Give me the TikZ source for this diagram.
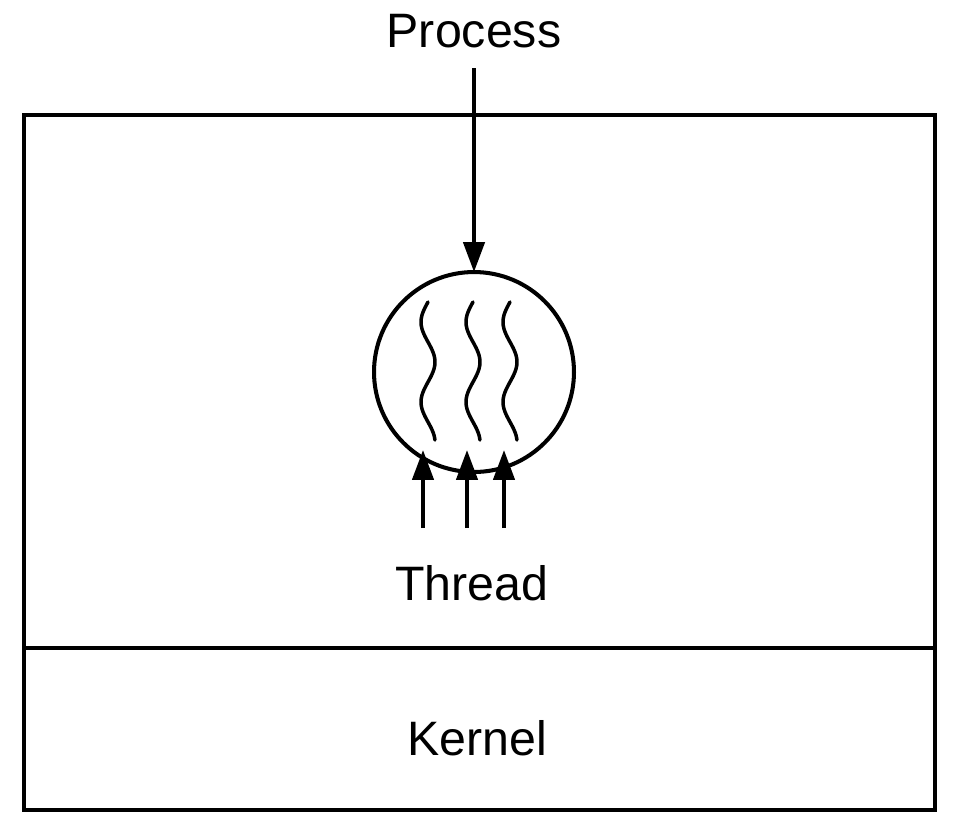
\documentclass[tikz,border=0pt]{standalone}
\usepackage{fontspec}
\setmainfont{Liberation Sans}
\usetikzlibrary{arrows.meta,positioning}

\tikzset{
  lbl/.style={font=\fontsize{27.5}{33}\selectfont, inner sep=0pt},
  frame/.style={draw, line width=2.3pt, inner sep=0pt, outer sep=0pt},
  arr/.style={line width=2.3pt, -{Triangle[length=17pt,width=12pt]}},
  wave/.style={line width=2pt, line cap=round}
}

\begin{document}
\begin{tikzpicture}[x=0.02cm,y=-0.02cm]
  \useasboundingbox (0,0) rectangle (954,816);

  % user space and kernel
  \node[frame, anchor=north west, minimum width=18.22cm, minimum height=10.66cm] (user) at (24,115) {};
  \node[frame, anchor=north, minimum width=18.22cm, minimum height=3.24cm] (kernel) at (user.south) {};
  \node[lbl, anchor=base] (kernellbl) at (477,755) {Kernel};

  % the process
  \node[circle, frame, minimum size=4cm] (proc) at (474,372) {};
  \node[lbl, anchor=base] (proclbl) at (474,47) {Process};
  \coordinate (procin) at (474,68);
  \draw[arr] (procin) -- (proc.north);

  % threads inside
  \foreach \x in {428,473,510}
    \draw[wave, domain=0:138, samples=60, variable=\t]
      plot ({\x - 7*sin(4.5*\t)}, {302+\t});

  % threads
  \node[lbl, anchor=base] (thread) at (472,600) {Thread};
  \foreach \x [count=\i] in {423,467,504} {
    \coordinate (t\i) at (\x,528);
    \coordinate (h\i) at (\x,450);
    \draw[arr] (t\i) -- (h\i);
  }
\end{tikzpicture}
\end{document}
